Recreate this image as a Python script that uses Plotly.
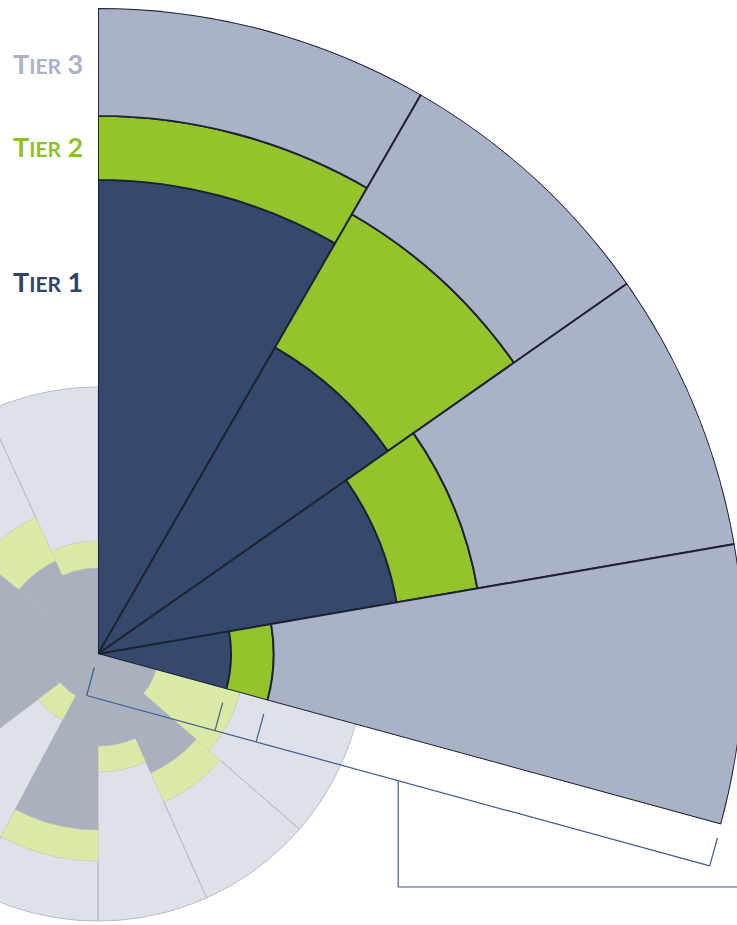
import numpy as np
import plotly.graph_objects as go

# ---------------- data ----------------
# highlighted (exploded) segments of the radial chart: start angle / span (deg, clockwise from north)
seg_start = [0, 30, 55, 80.2]
seg_span = [30, 25, 25.2, 25.1]
tier1 = [73.4, 54.8, 46.9, 20.6]      # ring thickness in score units (outer edge = 100)
tier2 = [9.9, 23.8, 12.7, 6.6]
tier3 = [16.7, 21.4, 40.4, 72.8]

# faded full chart in the background
bg_start = [103, 131, 156, 180, 208, 233, 258, 283, 309, 335.5]
bg_span = [28, 25, 24, 28, 25, 25, 25, 26, 26.5, 24.5]
bg_tier1 = [22.5, 48.7, 34.5, 65.9, 17.6, 56.0, 64.0, 60.0, 38.2, 32.2]
bg_tier2 = [32.6, 12.0, 9.7, 11.6, 10.5, 13.0, 11.0, 13.0, 18.0, 10.1]
bg_tier3 = [100 - a - b for a, b in zip(bg_tier1, bg_tier2)]

tier_labels = ["Tier 3", "Tier 2", "Tier 1"]

# ---------------- layout constants ----------------
VIEW_W, H = 737, 925
CX, CY = 98, 654            # chart centre (px)
R_BIG = 646                 # radius of the highlighted chart (px) - runs off the right edge
W = CX + R_BIG              # figure is a little wider than the window, overflow is hidden
R_BG = 267                  # radius of the background chart (px)

C_T1, C_T2, C_T3 = "#34496b", "#93c42c", "#aab2c7"
B_T1, B_T2, B_T3 = "#abb0be", "#d9e9a6", "#dfe1ea"
TXT = {"Tier 3": "#aab1c9", "Tier 2": "#8fc02b", "Tier 1": "#2e4468"}

fig = go.Figure()

# ---------- background chart (cartesian, pixel units about the centre) ----------
def ring_paths(starts, spans, r_in_list, r_out_list, scale):
    xs, ys = [], []
    for a0, sp, ri, ro in zip(starts, spans, r_in_list, r_out_list):
        ang = np.radians(np.linspace(a0, a0 + sp, 40))
        xo, yo = ro * scale * np.sin(ang), ro * scale * np.cos(ang)
        xi, yi = ri * scale * np.sin(ang[::-1]), ri * scale * np.cos(ang[::-1])
        xs += list(xo) + list(xi) + [xo[0], None]
        ys += list(yo) + list(yi) + [yo[0], None]
    return xs, ys

s_bg = R_BG / 100.0
inner = [0] * len(bg_start)
mid = bg_tier1
outer2 = [a + b for a, b in zip(bg_tier1, bg_tier2)]
full = [a + b + c for a, b, c in zip(bg_tier1, bg_tier2, bg_tier3)]
for rin, rout, col, lc, lw in [(outer2, full, B_T3, "#b9bdc7", 1.0),
                               (mid, outer2, B_T2, "#cfdcab", 0.6),
                               (inner, mid, B_T1, B_T1, 0.5)]:
    x, y = ring_paths(bg_start, bg_span, rin, rout, s_bg)
    fig.add_trace(go.Scatter(x=x, y=y, mode="lines", fill="toself", fillcolor=col,
                             line=dict(color=lc, width=lw), hoverinfo="skip",
                             showlegend=False, xaxis="x", yaxis="y"))

# ---------- bracket under the last highlighted segment ----------
a_edge = np.radians(seg_start[-1] + seg_span[-1])
u = np.array([np.sin(a_edge), np.cos(a_edge)])
n = np.array([np.cos(a_edge), -np.sin(a_edge)])
s_big = R_BIG / 100.0
tick_r = [0, tier1[-1], tier1[-1] + tier2[-1], 100]
OFF_IN, OFF_OUT = 14, 43
bx, by = [], []
for r in tick_r:
    p1 = u * r * s_big + n * OFF_IN
    p2 = u * r * s_big + n * OFF_OUT
    bx += [p1[0], p2[0], None]
    by += [p1[1], p2[1], None]
b0 = n * OFF_OUT
b1 = u * 100 * s_big + n * OFF_OUT
bx += [b0[0], b1[0], None]
by += [b0[1], b1[1], None]
pm = u * 50 * s_big + n * OFF_OUT
Y_CONN = -233
bx += [pm[0], pm[0], W - CX]
by += [pm[1], Y_CONN, Y_CONN]
fig.add_trace(go.Scatter(x=bx, y=by, mode="lines", line=dict(color="#3f5d8e", width=1.2),
                         hoverinfo="skip", showlegend=False, xaxis="x", yaxis="y"))

# ---------- highlighted chart (barpolar) ----------
theta_c = [a + s / 2 for a, s in zip(seg_start, seg_span)]
for vals, col, name in [(tier1, C_T1, "Tier 1"), (tier2, C_T2, "Tier 2"), (tier3, C_T3, "Tier 3")]:
    fig.add_trace(go.Barpolar(r=vals, theta=theta_c, width=seg_span, name=name,
                              marker=dict(color=col, line=dict(color="#1c2433", width=1.9)),
                              showlegend=False, subplot="polar"))

low = (seg_start[-1] + seg_span[-1]) - 90          # degrees below horizontal
sin_low = np.sin(np.radians(low))
top_px = CY - R_BIG
bot_px = CY + R_BIG * sin_low

fig.update_layout(
    width=W, height=H, margin=dict(l=0, r=0, t=0, b=0),
    paper_bgcolor="white", plot_bgcolor="rgba(0,0,0,0)",
    xaxis=dict(domain=[0, 1], range=[-CX, W - CX], visible=False, fixedrange=True),
    yaxis=dict(domain=[0, 1], range=[-(H - CY), CY], visible=False, fixedrange=True),
    polar=dict(
        domain=dict(x=[CX / W, 1], y=[(H - bot_px) / H, (H - top_px) / H]),
        sector=[-low, 90],
        bgcolor="rgba(0,0,0,0)",
        barmode="stack",
        angularaxis=dict(rotation=90, direction="clockwise", showline=False, showgrid=False,
                         showticklabels=False, ticks=""),
        radialaxis=dict(range=[0, 100], visible=False, showgrid=False, showline=False),
    ),
)

label_y = {"Tier 3": 64, "Tier 2": 146, "Tier 1": 281}
for lab in tier_labels:
    word, num = lab.split()
    txt = word[0].upper() + "<span style='font-size:21px'>" + word[1:].upper() + "</span> " + num
    fig.add_annotation(x=85 / W, y=(H - label_y[lab]) / H, xref="paper", yref="paper",
                       xanchor="right", yanchor="middle", showarrow=False, text=txt,
                       font=dict(family="Lato", size=27, color=TXT[lab], weight=700))

page_css = ("document.documentElement.style.overflow='hidden';"
            "document.body.style.overflow='hidden';"
            "document.body.style.margin='0';")
fig.write_html("out.html", post_script=page_css, config={"displayModeBar": False})
